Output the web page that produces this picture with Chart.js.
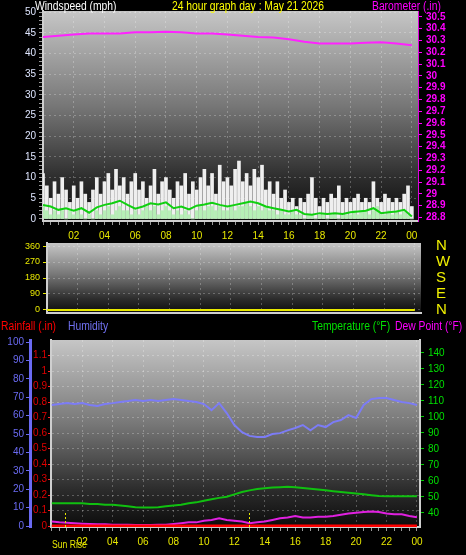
<!DOCTYPE html>
<html>
<head>
<meta charset="utf-8">
<script src="https://cdn.jsdelivr.net/npm/chart.js@4.4.0/dist/chart.umd.min.js"></script>
<style>
  html, body { margin: 0; padding: 0; background: #000; }
  body { width: 466px; height: 555px; position: relative; overflow: hidden; font-family: "Liberation Sans", Arial, sans-serif; }
  canvas { position: absolute; left: 0; }
  .lbl { position: absolute; font-size: 12px; line-height: 13px; white-space: nowrap; z-index: 2; transform: scaleX(0.86); transform-origin: left top; }
</style>
</head>
<body>
<canvas id="windChart" width="466" height="245" style="top:0"></canvas>
<canvas id="dirChart" width="466" height="91" style="top:232px"></canvas>
<canvas id="climateChart" width="466" height="225" style="top:330px"></canvas>

<div class="lbl" style="left:35px;top:0;color:#fff">Windspeed (mph)</div>
<div class="lbl" style="left:172px;top:0;color:#ffff00">24 hour graph day : May 21 2026</div>
<div class="lbl" style="left:372px;top:0;color:#ff00ff">Barometer (.in)</div>
<div class="lbl" style="left:1px;top:320px;color:#ff0000">Rainfall (.in)</div>
<div class="lbl" style="left:68px;top:320px;color:#7070f0">Humidity</div>
<div class="lbl" style="left:312px;top:320px;color:#00e000">Temperature (°F)</div>
<div class="lbl" style="left:395px;top:320px;color:#ff00ff">Dew Point (°F)</div>
<div class="lbl" style="left:52px;top:538px;font-size:10px;color:#e8e800">Sun Rise</div>

<script>
/* ---- time categories ---- */
const quarterHours = Array.from({ length: 97 }, (_, i) => i / 4);
const halfHours = Array.from({ length: 49 }, (_, i) => i / 2);
const hours = Array.from({ length: 25 }, (_, i) => i);

/* ---- tick labels ---- */
const hourTicks = [2, 4, 6, 8, 10, 12, 14, 16, 18, 20, 22, 24];
const hourLabels = ['02', '04', '06', '08', '10', '12', '14', '16', '18', '20', '22', '00'];
const windTicks = [0, 5, 10, 15, 20, 25, 30, 35, 40, 45, 50];
const windMinor = Array.from({ length: 51 }, (_, i) => i);
const baroTicks = [28.8, 28.9, 29, 29.1, 29.2, 29.3, 29.4, 29.5, 29.6, 29.7, 29.8, 29.9, 30, 30.1, 30.2, 30.3, 30.4, 30.5];
const dirTicks = [0, 90, 180, 270, 360];
const dirLetters = ['N', 'E', 'S', 'W', 'N'];
const humidityTicks = [0, 10, 20, 30, 40, 50, 60, 70, 80, 90, 100];
const rainTicks = [0, 0.1, 0.2, 0.3, 0.4, 0.5, 0.6, 0.7, 0.8, 0.9, 1, 1.1];
const rainLabels = ['0', '0.1', '0.2', '0.3', '0.4', '0.5', '0.6', '0.7', '0.8', '0.9', '1', '1.1'];
const tempTicks = [40, 50, 60, 70, 80, 90, 100, 110, 120, 130, 140];
const sunTimes = [0.9, 12.95];

/* ---- wind (every 15 min) ---- */
const windGust = [
  11, 8, 5, 9,   6, 10, 7, 4,   8, 5, 9, 6,   4, 7, 10, 6,
  9, 11, 7, 12,  8, 10, 6, 9,   11, 7, 9, 5,  8, 12, 6, 9,
  10, 7, 5, 9,   8, 11, 6, 9,   7, 10, 12, 8, 11, 6, 13, 9,
  10, 8, 12, 14, 9, 11, 8, 12,  10, 13, 7, 9, 6, 9, 5, 7,
  4, 5, 3, 5,    4, 6, 10, 5,   3, 5, 4, 6,   5, 8, 4, 5,
  4, 5, 6, 4,    5, 4, 9, 5,    4, 6, 5, 4,   5, 4, 6, 8,
  3
];
const windSpeed = [
  3, 2, 1, 2,  1, 2, 0, 2,  1, 2, 1, 0,  1, 0, 2, 1,
  2, 3, 1, 2,  3, 2, 2, 1,  2, 1, 2, 3,  2, 3, 1, 2,
  3, 2, 1, 2,  1, 2, 1, 0,  2, 3, 2, 3,  3, 2, 3, 2,
  2, 3, 2, 3,  3, 4, 3, 2,  3, 2, 3, 2,  2, 1, 2, 1,
  1, 2, 1, 1,  0, 1, 1, 0,  1, 1, 0, 1,  1, 0, 1, 1,
  1, 2, 1, 2,  2, 1, 2, 3,  1, 1, 2, 1,  2, 1, 2, 1,
  0
];
/* every 30 min */
const windAvg = [
  3.4, 3.0, 2.2, 2.6, 2.0, 2.6, 1.5, 2.8, 3.4, 3.8, 4.4, 3.4,
  2.5, 3.0, 3.8, 3.5, 4.0, 2.6, 3.0, 2.3, 3.2, 3.5, 3.9, 3.4,
  3.0, 3.4, 3.8, 4.2, 3.8, 3.0, 2.6, 2.2, 1.8, 2.2, 1.2, 1.0,
  1.4, 1.2, 1.4, 1.2, 1.6, 1.8, 2.0, 2.6, 1.4, 1.6, 1.8, 2.2,
  0.6
];
/* hourly */
const barometer = [
  30.33, 30.34, 30.35, 30.36, 30.36, 30.36, 30.37, 30.37, 30.375, 30.37,
  30.36, 30.36, 30.35, 30.34, 30.33, 30.325, 30.31, 30.29, 30.275, 30.275,
  30.275, 30.28, 30.285, 30.275, 30.26
];
const windDir = [0, 0, 0, 0, 0, 0, 0, 0, 0, 0, 0, 0, 0, 0, 0, 0, 0, 0, 0, 0, 0, 0, 0, 0, 0];

/* ---- climate (every 30 min) ---- */
const humidity = [
  65.8, 66.3, 66.8, 66.3, 66.8, 65.8, 65.2, 66.3, 66.8, 67.4, 67.9, 68.5,
  67.9, 68.5, 67.9, 68.5, 69.0, 68.5, 67.9, 67.4, 66.3, 63.0, 66.8, 61.4,
  54.9, 51.0, 49.0, 48.4, 48.4, 50.0, 50.5, 52.0, 53.3, 54.9, 52.0, 54.9,
  53.8, 56.5, 57.6, 60.3, 58.7, 65.8, 69.0, 69.6, 69.6, 68.5, 67.4, 66.8,
  65.8
];
const temperature = [
  46, 46, 46, 46, 46, 45.5, 45.5, 45, 45, 44.5, 44, 43.5,
  43.3, 43.3, 43.5, 44, 44.5, 45, 46, 46.5, 47.5, 48.5, 49.3, 50,
  51.5, 53, 54, 54.8, 55.3, 55.8, 56, 56.2, 56, 55.5, 55, 54.5,
  54, 53.5, 53, 52.5, 52, 51.5, 51, 50.5, 50.3, 50.3, 50.3, 50.3,
  50.3
];
const dewPoint = [
  34.5, 34, 33.8, 33.5, 33.2, 33, 32.8, 32.8, 32.5, 32.5, 32.5, 32.3,
  32.3, 32.3, 32.5, 32.5, 33, 33.5, 34, 34, 35, 35.5, 36.5, 35.5,
  35, 34.5, 33.5, 34, 34.5, 35.5, 36.5, 37, 38, 37, 37, 37.5,
  37.5, 38, 38.8, 39.5, 40, 40.5, 40.8, 40.5, 39.5, 39, 39, 38,
  37.2
];
const rainfall = [0, 0, 0, 0, 0, 0, 0, 0, 0, 0, 0, 0, 0, 0, 0, 0, 0, 0, 0, 0, 0, 0, 0, 0, 0];

const pts = (xs, ys) => xs.map((x, i) => ({ x, y: ys[i] }));
const tickFont = { family: 'Liberation Sans', size: 10 };
const gridDash = 'rgba(255,255,255,0.25)';
const none = 'rgba(0,0,0,0)';

// gray gradient behind every plot
const panelBg = {
  id: 'panelBg',
  beforeDraw(chart) {
    const { ctx, chartArea: a } = chart;
    const g = ctx.createLinearGradient(0, a.top, 0, a.bottom);
    g.addColorStop(0, '#c6c6c6');
    g.addColorStop(0.45, '#777777');
    g.addColorStop(0.8, '#2c2c2c');
    g.addColorStop(1, '#0c0c0c');
    ctx.save();
    ctx.fillStyle = g;
    ctx.fillRect(a.left, a.top, a.right - a.left, a.bottom - a.top);
    ctx.restore();
  }
};

// sunrise / sunset marks
const sunMarks = {
  id: 'sunMarks',
  afterDatasetsDraw(chart) {
    const { ctx, chartArea: a, scales } = chart;
    ctx.save();
    ctx.strokeStyle = '#e8e800';
    ctx.lineWidth = 1;
    ctx.setLineDash([2, 2]);
    sunTimes.forEach(t => {
      const x = Math.round(scales.x.getPixelForValue(t)) + 0.5;
      ctx.beginPath();
      ctx.moveTo(x, a.bottom);
      ctx.lineTo(x, a.bottom - 16);
      ctx.stroke();
    });
    ctx.restore();
  }
};

function hourAxis(min, max, height, showLabels) {
  return {
    type: 'linear', min, max, offset: false,
    afterFit: s => { s.height = height; },
    afterBuildTicks: s => { s.ticks = halfHours.map(v => ({ value: v })); },
    ticks: {
      display: showLabels, color: '#e8e800', font: tickFont, padding: 5, autoSkip: false, maxRotation: 0,
      callback: v => { const i = hourTicks.indexOf(v); return i >= 0 ? hourLabels[i] : ''; }
    },
    grid: {
      offset: false, drawTicks: showLabels, tickLength: 4, tickColor: '#9a9a9a',
      color: c => (c.tick && hourTicks.includes(c.tick.value)) ? gridDash : none
    },
    border: { color: '#cfcfcf', width: 2, dash: [2, 3] }
  };
}

const common = {
  responsive: false,
  animation: false,
  plugins: { legend: { display: false }, tooltip: { enabled: false } }
};

new Chart(document.getElementById('windChart'), {
  type: 'bar',
  data: {
    datasets: [
      { type: 'line', data: pts(hours, barometer), yAxisID: 'baro', borderColor: '#ff22ff', borderWidth: 2, pointRadius: 0, order: 0 },
      { type: 'line', data: pts(halfHours, windAvg), yAxisID: 'wind', borderColor: '#10d010', borderWidth: 2, pointRadius: 0, order: 1 },
      { type: 'bar', data: pts(quarterHours, windSpeed), yAxisID: 'wind', backgroundColor: '#b6efb6', barThickness: 3, grouped: false, order: 2 },
      { type: 'bar', data: pts(quarterHours, windGust), yAxisID: 'wind', backgroundColor: '#efefef', barThickness: 3, grouped: false, order: 3 }
    ]
  },
  options: {
    ...common,
    layout: { padding: { top: 11 }, autoPadding: false },
    scales: {
      x: hourAxis(0, 24.4, 24, true),
      wind: {
        axis: 'y', type: 'linear', position: 'left', min: -0.5, max: 50.3,
        afterFit: s => { s.width = 43; },
        afterBuildTicks: s => { s.ticks = windMinor.map(v => ({ value: v })); },
        ticks: { color: '#dfe6ff', font: tickFont, padding: 3, autoSkip: false, callback: v => windTicks.includes(v) ? String(v) : '' },
        grid: { tickLength: 4, tickColor: '#9a9a9a', color: c => (c.tick && windTicks.includes(c.tick.value) && c.tick.value > 0) ? gridDash : none },
        border: { color: '#cfcfcf', width: 2, dash: [2, 3] }
      },
      baro: {
        axis: 'y', type: 'linear', position: 'right', min: 28.77, max: 30.55,
        afterFit: s => { s.width = 48; },
        afterBuildTicks: s => { s.ticks = baroTicks.map(v => ({ value: v })); },
        ticks: { color: '#ff00ff', font: { ...tickFont, weight: 'bold' }, padding: 4, autoSkip: false, callback: v => String(v) },
        grid: { drawOnChartArea: false, tickColor: '#ff00ff', tickLength: 4 },
        border: { color: '#e000e0', width: 1 }
      }
    }
  },
  plugins: [panelBg]
});

new Chart(document.getElementById('dirChart'), {
  type: 'line',
  data: {
    datasets: [
      { data: pts(hours, windDir), yAxisID: 'dir', borderColor: '#e8e800', borderWidth: 2, pointRadius: 0 }
    ]
  },
  options: {
    ...common,
    layout: { padding: { top: 11 }, autoPadding: false },
    scales: {
      x: hourAxis(0, 24.4, 10, false),
      dir: {
        axis: 'y', type: 'linear', position: 'left', min: -17, max: 377,
        afterFit: s => { s.width = 47; },
        afterBuildTicks: s => { s.ticks = dirTicks.map(v => ({ value: v })); },
        ticks: { color: '#e8e800', font: { ...tickFont, size: 9 }, padding: 3, autoSkip: false, callback: v => String(v) },
        grid: { tickLength: 4, tickColor: '#e8e800', color: gridDash },
        border: { color: '#cfcfcf', width: 2, dash: [2, 3] }
      },
      compass: {
        axis: 'y', type: 'linear', position: 'right', min: -17, max: 377,
        afterFit: s => { s.width = 45; },
        afterBuildTicks: s => { s.ticks = dirTicks.map(v => ({ value: v })); },
        ticks: { color: '#f0f000', font: { family: 'Liberation Sans', size: 15 }, padding: 1, autoSkip: false, callback: (v, i) => dirLetters[i] },
        grid: { drawOnChartArea: false, tickLength: 14, tickColor: none },
        border: { display: false }
      }
    }
  },
  plugins: [panelBg]
});

new Chart(document.getElementById('climateChart'), {
  type: 'line',
  data: {
    datasets: [
      { data: pts(hours, rainfall), yAxisID: 'rain', borderColor: '#ff0000', borderWidth: 3, pointRadius: 0, order: 0 },
      { data: pts(halfHours, dewPoint), yAxisID: 'temp', borderColor: '#e020e0', borderWidth: 2, pointRadius: 0, order: 1 },
      { data: pts(halfHours, temperature), yAxisID: 'temp', borderColor: '#10c010', borderWidth: 2, pointRadius: 0, order: 2 },
      { data: pts(halfHours, humidity), yAxisID: 'hum', borderColor: '#7c7cf6', borderWidth: 2, pointRadius: 0, order: 3 }
    ]
  },
  options: {
    ...common,
    layout: { padding: { top: 10 }, autoPadding: false },
    scales: {
      x: hourAxis(-0.05, 24.2, 28, true),
      rain: {
        axis: 'y', type: 'linear', position: 'left', weight: 0, min: -0.006, max: 1.2,
        afterFit: s => { s.width = 21; },
        afterBuildTicks: s => { s.ticks = rainTicks.map(v => ({ value: v })); },
        ticks: { color: '#e00000', font: tickFont, padding: 1, autoSkip: false, callback: (v, i) => rainLabels[i] },
        grid: { tickLength: 3, tickColor: '#ff2020', color: c => (c.tick && c.tick.value > 0) ? gridDash : none },
        border: { color: '#cfcfcf', width: 2, dash: [2, 3] }
      },
      hum: {
        axis: 'y', type: 'linear', position: 'left', weight: 1, min: -0.5, max: 101.1,
        afterFit: s => { s.width = 30; },
        afterBuildTicks: s => { s.ticks = humidityTicks.map(v => ({ value: v })); },
        ticks: { color: '#6a6af2', font: tickFont, padding: 2, autoSkip: false, callback: v => String(v) },
        grid: { drawOnChartArea: false, tickLength: 4, tickColor: '#6a6af2' },
        border: { color: '#6a6af2', width: 3 }
      },
      temp: {
        axis: 'y', type: 'linear', position: 'right', min: 31.1, max: 148,
        afterFit: s => { s.width = 46; },
        afterBuildTicks: s => { s.ticks = tempTicks.map(v => ({ value: v })); },
        ticks: { color: '#00e000', font: tickFont, padding: 4, autoSkip: false, callback: v => String(v) },
        grid: { drawOnChartArea: false, tickLength: 4, tickColor: '#00d000' },
        border: { color: '#cfcfcf', width: 2 }
      }
    }
  },
  plugins: [panelBg, sunMarks]
});
</script>
</body>
</html>
